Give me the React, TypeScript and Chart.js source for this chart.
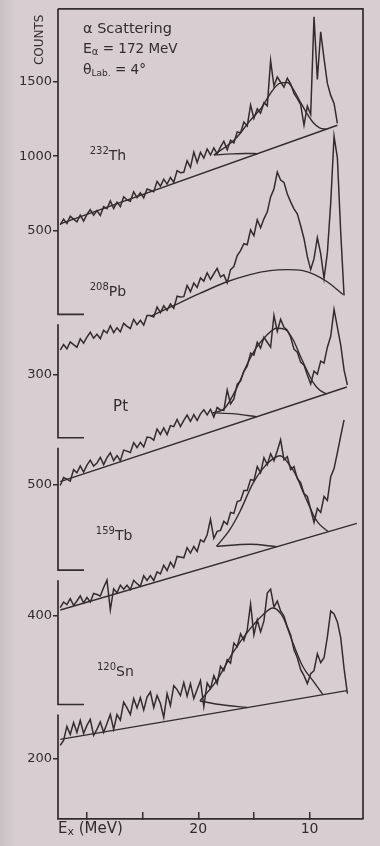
import React, { useEffect, useRef } from 'react';
import { Chart, registerables } from 'chart.js';

Chart.register(...registerables);

const INK = '#332c2d';
const PAPER = '#d8ced1';
const FONT = '"DejaVu Sans", sans-serif';

// Excitation energy channels (MeV)
const ENERGY = [
  32.4, 32.1, 31.8, 31.5, 31.2, 30.9, 30.6, 30.3, 30.0, 29.7,
  29.4, 29.1, 28.8, 28.5, 28.2, 27.9, 27.6, 27.3, 27.0, 26.7,
  26.4, 26.1, 25.8, 25.5, 25.2, 24.9, 24.6, 24.3, 24.0, 23.7,
  23.4, 23.1, 22.8, 22.5, 22.2, 21.9, 21.6, 21.3, 21.0, 20.7,
  20.4, 20.1, 19.8, 19.5, 19.2, 18.9, 18.6, 18.3, 18.0, 17.7,
  17.4, 17.1, 16.8, 16.5, 16.2, 15.9, 15.6, 15.3, 15.0, 14.7,
  14.4, 14.1, 13.8, 13.5, 13.2, 12.9, 12.6, 12.3, 12.0, 11.7,
  11.4, 11.1, 10.8, 10.5, 10.2, 9.9, 9.6, 9.3, 9.0, 8.7,
  8.4, 8.1, 7.8, 7.5, 7.2, 6.9, 6.6,
];

// Measured spectra (counts per channel)
const TH_COUNTS = [
  540, 578, 548, 597, 578, 560, 605, 565, 610, 642,
  605, 635, 603, 662, 648, 700, 649, 692, 662, 728,
  707, 698, 762, 723, 755, 721, 780, 772, 762, 831,
  799, 846, 813, 857, 825, 903, 889, 892, 969, 925,
  1027, 957, 1025, 987, 1048, 1008, 1055, 1015, 1062, 1100,
  1043, 1107, 1089, 1163, 1157, 1228, 1202, 1343, 1253, 1317,
  1288, 1358, 1337, 1640, 1470, 1530, 1495, 1462, 1522, 1485,
  1420, 1385, 1345, 1207, 1335, 1280, 1933, 1513, 1833, 1653,
  1487, 1407, 1353, 1220,
];
const PB_COUNTS = [
  425, 453, 432, 467, 453, 440, 482, 460, 491, 515,
  485, 505, 483, 525, 511, 548, 513, 538, 517, 560,
  545, 534, 580, 553, 575, 551, 599, 599, 592, 642,
  614, 648, 625, 657, 635, 696, 692, 694, 750, 719,
  762, 740, 788, 772, 814, 781, 809, 836, 793, 803,
  763, 830, 845, 900, 925, 960, 955, 1030, 1000, 1080,
  1040, 1085, 1120, 1195, 1235, 1320, 1280, 1268, 1210, 1170,
  1135, 1110, 1050, 985, 895, 830, 885, 990, 910, 785,
  915, 1165, 1500, 1390, 1015, 700,
];
const PT_COUNTS = [
  495, 535, 527, 517, 575, 559, 594, 563, 598, 623,
  593, 608, 637, 600, 635, 660, 620, 645, 620, 673,
  668, 661, 711, 686, 712, 689, 739, 736, 723, 779,
  752, 785, 751, 796, 791, 827, 791, 822, 849, 817,
  851, 822, 855, 876, 850, 878, 839, 887, 875, 873,
  975, 905, 930, 1005, 1020, 1070, 1095, 1160, 1150, 1215,
  1185, 1240, 1215, 1190, 1350, 1270, 1330, 1290, 1275, 1240,
  1180, 1165, 1115, 1100, 1050, 1005, 1070, 1055, 1120, 1110,
  1190, 1245, 1380, 1290, 1200, 1075, 1000,
];
const TB_COUNTS = [
  442, 470, 457, 487, 453, 475, 501, 465, 493, 470,
  513, 508, 500, 543, 580, 430, 537, 516, 555, 534,
  554, 532, 579, 562, 549, 602, 578, 603, 578, 621,
  611, 655, 628, 670, 644, 699, 696, 692, 743, 716,
  749, 724, 782, 772, 808, 885, 790, 825, 830, 875,
  860, 920, 915, 975, 980, 1030, 1030, 1085, 1080, 1150,
  1120, 1195, 1160, 1215, 1180, 1230, 1285, 1185, 1200, 1135,
  1150, 1090, 1070, 1015, 1000, 935, 870, 940, 920, 1000,
  980, 1100, 1140, 1220, 1305, 1385,
];
const SN_COUNTS = [
  265, 290, 360, 320, 380, 330, 390, 325, 365, 395,
  315, 345, 383, 330, 375, 420, 345, 420, 392, 482,
  453, 420, 500, 453, 505, 442, 507, 533, 455, 515,
  475, 405, 525, 465, 565, 545, 515, 580, 512, 575,
  500, 545, 590, 460, 578, 550, 615, 575, 662, 640,
  695, 678, 778, 760, 825, 792, 845, 975, 820, 895,
  835, 890, 1030, 1050, 960, 990, 940, 915, 860, 820,
  745, 705, 645, 615, 575, 625, 640, 725, 680, 705,
  810, 940, 925, 885, 805, 650, 525,
];

// Fitted curves: background lines, shoulders and giant-resonance fits
const TH_BG_E = [32.4, 7.5];
const TH_BG = [547, 1207];
const TH_SHOULDER_E = [18.6, 17.0, 15.8, 14.65];
const TH_SHOULDER = [1008, 1015, 1018, 1017];
const TH_GR_E = [18.6, 16.7, 15.4, 14.3, 13.4, 12.7, 12.0, 11.5, 10.9, 10.25, 9.7, 9.1, 8.45];
const TH_GR = [1008, 1113, 1233, 1327, 1433, 1487, 1493, 1453, 1373, 1287, 1227, 1190, 1180];

const PB_BG_E = [24.3, 22.55, 19.85, 17.6, 15.35, 13.55, 12.05, 10.6, 9.55, 8.45, 7.0];
const PB_BG = [595, 640, 710, 765, 805, 825, 830, 825, 805, 770, 705];

const PT_BG_E = [32.4, 6.65];
const PT_BG = [515, 990];
const PT_SHOULDER_E = [18.7, 16.7, 14.75];
const PT_SHOULDER = [860, 855, 841];
const PT_GR_E = [18.7, 17.6, 16.5, 15.6, 14.75, 13.85, 12.95, 12.2, 11.5, 10.9, 10.25, 9.7, 9.1, 8.45];
const PT_GR = [860, 885, 990, 1105, 1190, 1250, 1285, 1280, 1230, 1155, 1075, 1015, 975, 955];

const TB_BG_E = [32.4, 5.75];
const TB_BG = [430, 865];
const TB_SHOULDER_E = [18.35, 15.35, 12.95];
const TB_SHOULDER = [750, 760, 748];
const TB_GR_E = [18.35, 17.15, 16.25, 15.1, 14.2, 13.4, 12.65, 11.75, 11.15, 10.6, 10.0, 9.55, 9.1, 8.35];
const TB_GR = [750, 835, 925, 1065, 1140, 1185, 1205, 1155, 1100, 1025, 950, 895, 860, 825];

const SN_BG_E = [32.4, 6.65];
const SN_BG = [295, 540];
const SN_SHOULDER_E = [19.85, 18.05, 15.6];
const SN_SHOULDER = [488, 470, 455];
const SN_GR_E = [19.85, 18.35, 16.9, 15.35, 14.2, 13.3, 12.4, 11.5, 10.6, 9.7, 8.8];
const SN_GR = [488, 590, 730, 850, 920, 955, 910, 780, 660, 590, 520];

// Axis ticks
const X_TICKS = [30, 25, 20, 15, 10];
const X_TICK_LABELS = ['', '', '20', '', '10'];
const TH_TICKS = [500, 1000, 1500];
const PB_TICKS = [300];
const PT_TICKS = [500];
const TB_TICKS = [400];
const SN_TICKS = [200];

// Panel layout (one stacked y axis per target)
const PANEL_AXES = ['yTh', 'yPb', 'yPt', 'yTb', 'ySn'];
const PANEL_MIN = [-93, -40, 45, -70, -105];
const PANEL_MAX = [1987, 580, 710, 605, 445];
const PANEL_WEIGHT = [312, 124, 133, 135, 110];
const PANEL_TICKS = [TH_TICKS, PB_TICKS, PT_TICKS, TB_TICKS, SN_TICKS];
const PANEL_COUNTS = [TH_COUNTS, PB_COUNTS, PT_COUNTS, TB_COUNTS, SN_COUNTS];
const PANEL_CURVES = [
  [[TH_BG_E, TH_BG], [TH_SHOULDER_E, TH_SHOULDER], [TH_GR_E, TH_GR]],
  [[PB_BG_E, PB_BG]],
  [[PT_BG_E, PT_BG], [PT_SHOULDER_E, PT_SHOULDER], [PT_GR_E, PT_GR]],
  [[TB_BG_E, TB_BG], [TB_SHOULDER_E, TB_SHOULDER], [TB_GR_E, TB_GR]],
  [[SN_BG_E, SN_BG], [SN_SHOULDER_E, SN_SHOULDER], [SN_GR_E, SN_GR]],
];

// Target labels: [axis, energy, counts, mass number, symbol]
const TARGET_LABELS: [string, number, number, string, string][] = [
  ['yTh', 29.75, 1000, '232', 'Th'],
  ['yPb', 29.75, 715, '208', 'Pb'],
  ['yPt', 27.65, 890, '', 'Pt'],
  ['yTb', 29.2, 800, '159', 'Tb'],
  ['ySn', 29.1, 630, '120', 'Sn'],
];

type Part = { t: string; s: number; dy?: number };

function drawParts(ctx: CanvasRenderingContext2D, x: number, y: number, parts: Part[]) {
  let cx = x;
  for (const p of parts) {
    ctx.font = `${p.s}px ${FONT}`;
    ctx.fillText(p.t, cx, y + (p.dy || 0));
    cx += ctx.measureText(p.t).width;
  }
}

const decor = {
  id: 'decor',
  afterDraw(chart: any) {
    const { ctx, chartArea: a, scales } = chart;
    ctx.save();
    ctx.strokeStyle = INK;
    ctx.lineWidth = 1.7;
    ctx.beginPath();
    ctx.moveTo(a.left, a.top);
    ctx.lineTo(a.right, a.top);
    ctx.lineTo(a.right, a.bottom);
    const n = PANEL_AXES.length;
    PANEL_AXES.forEach((axis, k) => {
      const s = scales[axis];
      const top = k === 0 ? a.top : s.top + 5;
      const bottom = k === n - 1 ? a.bottom : s.bottom - 5;
      ctx.moveTo(a.left, top);
      ctx.lineTo(a.left, bottom);
      if (k !== n - 1) ctx.lineTo(a.left + 26, bottom);
    });
    ctx.stroke();

    ctx.fillStyle = INK;
    ctx.textBaseline = 'middle';
    ctx.textAlign = 'left';

    // header
    const hx = a.left + 25;
    drawParts(ctx, hx, a.top + 20, [{ t: 'α Scattering', s: 14.5 }]);
    drawParts(ctx, hx, a.top + 41, [{ t: 'E', s: 14 }, { t: 'α', s: 10, dy: 3 }, { t: ' = 172 MeV', s: 13.5 }]);
    drawParts(ctx, hx, a.top + 62, [{ t: 'θ', s: 14 }, { t: 'Lab.', s: 9, dy: 3 }, { t: ' = 4°', s: 13.5 }]);

    // target labels
    for (const [axis, e, c, mass, sym] of TARGET_LABELS) {
      const x = scales.x.getPixelForValue(e);
      const y = scales[axis].getPixelForValue(c);
      const parts: Part[] = [];
      if (mass) parts.push({ t: mass, s: 10, dy: -5 });
      parts.push({ t: sym, s: mass ? 14 : 15 });
      drawParts(ctx, x, y, parts);
    }

    // x axis title
    drawParts(ctx, a.left, a.bottom + 10, [{ t: 'E', s: 15 }, { t: 'x', s: 11, dy: 3 }, { t: ' (MeV)', s: 15 }]);

    // y axis title
    ctx.save();
    ctx.translate(a.left - 18, a.top + 31);
    ctx.rotate(-Math.PI / 2);
    ctx.textAlign = 'center';
    ctx.font = `12px ${FONT}`;
    ctx.fillText('COUNTS', 0, 0);
    ctx.restore();

    ctx.restore();
  },
};

const pts = (xs: number[], ys: number[]) => xs.map((x, i) => ({ x, y: ys[i] }));

export default function App() {
  const ref = useRef<HTMLCanvasElement>(null);

  useEffect(() => {
    document.body.style.margin = '0';
    document.body.style.background = `linear-gradient(to right, #c9c0c3 0px, ${PAPER} 16px)`;
    if (!ref.current) return;

    const datasets: any[] = [];
    PANEL_AXES.forEach((axis, k) => {
      const counts = PANEL_COUNTS[k];
      datasets.push({
        data: pts(ENERGY.slice(0, counts.length), counts),
        xAxisID: 'x',
        yAxisID: axis,
        borderColor: INK,
        borderWidth: 1.5,
        pointRadius: 0,
        tension: 0,
        clip: false,
      });
      PANEL_CURVES[k].forEach(([xs, ys]) => {
        datasets.push({
          data: pts(xs, ys),
          xAxisID: 'x',
          yAxisID: axis,
          borderColor: INK,
          borderWidth: 1.4,
          pointRadius: 0,
          cubicInterpolationMode: 'monotone',
          clip: false,
        });
      });
    });

    const scales: any = {
      x: {
        type: 'linear',
        reverse: true,
        min: 5.2,
        max: 32.6,
        position: 'bottom',
        afterBuildTicks: (s: any) => {
          s.ticks = X_TICKS.map((v) => ({ value: v }));
        },
        afterFit: (s: any) => {
          s.height = 27;
        },
        border: { display: true, color: INK, width: 1.7 },
        grid: { drawOnChartArea: false, drawTicks: true, tickLength: -7, color: INK, lineWidth: 1.5 },
        ticks: {
          color: INK,
          font: { family: FONT, size: 14 },
          padding: 9,
          maxRotation: 0,
          autoSkip: false,
          callback: (v: number) => {
            const i = X_TICKS.indexOf(v);
            return i >= 0 ? X_TICK_LABELS[i] : '';
          },
        },
      },
    };
    PANEL_AXES.forEach((axis, k) => {
      scales[axis] = {
        type: 'linear',
        position: 'left',
        stack: 'panels',
        stackWeight: PANEL_WEIGHT[k],
        weight: PANEL_AXES.length - k,
        min: PANEL_MIN[k],
        max: PANEL_MAX[k],
        afterBuildTicks: (s: any) => {
          s.ticks = PANEL_TICKS[k].map((v) => ({ value: v }));
        },
        afterFit: (s: any) => {
          s.width = 58;
        },
        border: { display: false },
        grid: { drawOnChartArea: false, drawTicks: true, tickLength: 5, color: INK, lineWidth: 1.5 },
        ticks: {
          color: INK,
          font: { family: FONT, size: 13 },
          padding: 1,
          autoSkip: false,
          callback: (v: number) => String(v),
        },
      };
    });

    const chart = new Chart(ref.current, {
      type: 'line',
      data: { datasets },
      options: {
        animation: false,
        responsive: true,
        maintainAspectRatio: false,
        layout: { padding: { top: 5, right: 17, left: 0, bottom: 0 } },
        plugins: { legend: { display: false }, tooltip: { enabled: false }, title: { display: false } },
        scales,
      } as any,
      plugins: [decor],
    });
    return () => chart.destroy();
  }, []);

  return (
    <div style={{ width: 380, height: 846, position: 'relative' }}>
      <canvas ref={ref} />
    </div>
  );
}
